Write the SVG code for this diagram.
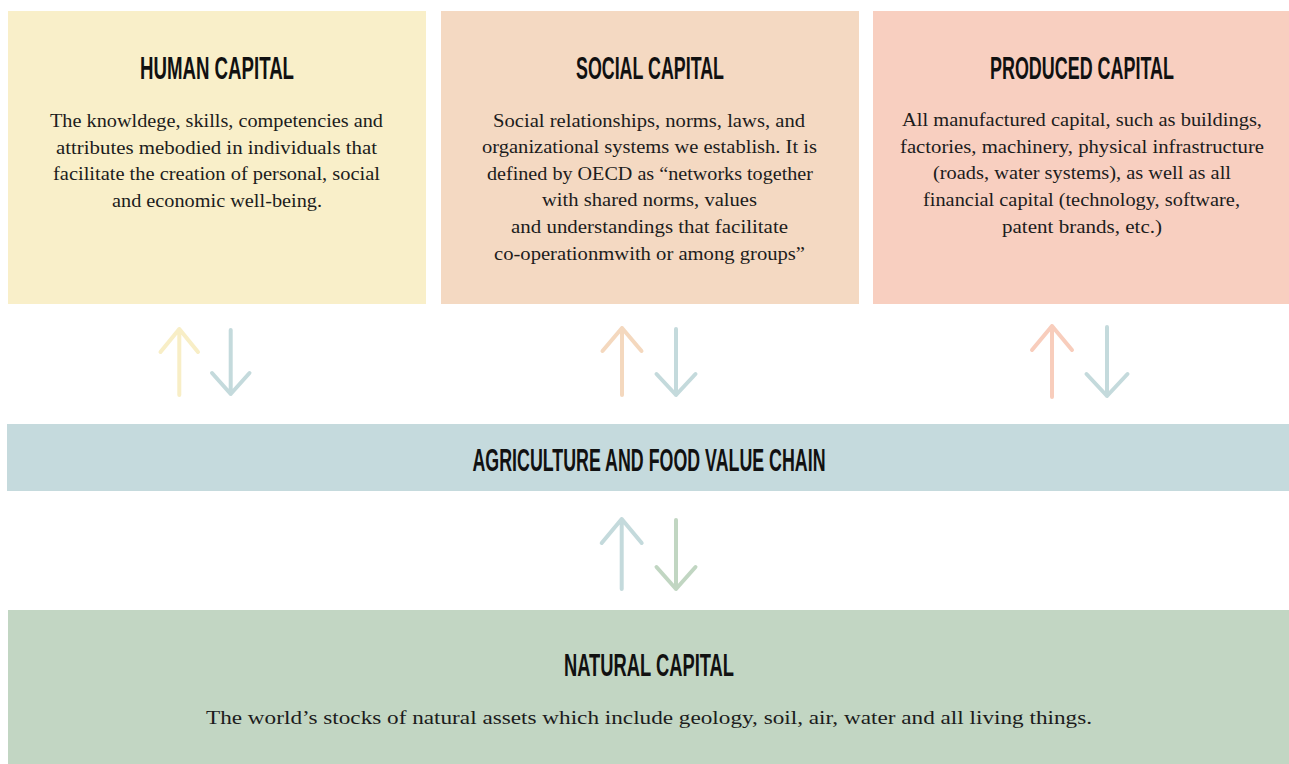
<svg xmlns="http://www.w3.org/2000/svg" width="1289" height="764" viewBox="0 0 1289 764">
  <style>
    .title { font-family: "Liberation Sans", Arial, sans-serif; font-weight: bold; font-size: 31px; fill: #111111; text-anchor: middle; }
    .body { font-family: "Liberation Serif", "Times New Roman", serif; font-size: 19px; fill: #1c1c1c; text-anchor: middle; }
    .arrow { fill: none; stroke-width: 4; stroke-linecap: round; stroke-linejoin: round; }
    .c-yellow { stroke: #F8EEC6; }
    .c-blue { stroke: #C4DADC; }
    .c-peach { stroke: #F4D8BE; }
    .c-salmon { stroke: #F8CDBC; }
    .c-green { stroke: #C1D6C2; }
  </style>
  <rect width="1289" height="764" fill="#ffffff"/>

  <!-- Human capital -->
  <g id="human-capital">
    <rect x="8" y="11" width="418" height="293" fill="#F9EFC9"/>
    <text class="title" x="217" y="79" textLength="154" lengthAdjust="spacingAndGlyphs">HUMAN CAPITAL</text>
    <text class="body" x="216.5" y="127" textLength="333" lengthAdjust="spacingAndGlyphs">The knowldege, skills, competencies and</text>
    <text class="body" x="216.5" y="153.7" textLength="321" lengthAdjust="spacingAndGlyphs">attributes mebodied in individuals that</text>
    <text class="body" x="216.5" y="180.4" textLength="327" lengthAdjust="spacingAndGlyphs">facilitate the creation of personal, social</text>
    <text class="body" x="217" y="207" textLength="210" lengthAdjust="spacingAndGlyphs">and economic well-being.</text>
  </g>

  <!-- Social capital -->
  <g id="social-capital">
    <rect x="441" y="11" width="418" height="293" fill="#F4D9C2"/>
    <text class="title" x="650" y="79" textLength="148" lengthAdjust="spacingAndGlyphs">SOCIAL CAPITAL</text>
    <text class="body" x="649" y="126.5" textLength="312" lengthAdjust="spacingAndGlyphs">Social relationships, norms, laws, and</text>
    <text class="body" x="649.5" y="153" textLength="335" lengthAdjust="spacingAndGlyphs">organizational systems we establish. It is</text>
    <text class="body" x="650" y="179.7" textLength="326" lengthAdjust="spacingAndGlyphs">defined by OECD as “networks together</text>
    <text class="body" x="649.5" y="206.3" textLength="215" lengthAdjust="spacingAndGlyphs">with shared norms, values</text>
    <text class="body" x="649.5" y="233" textLength="277" lengthAdjust="spacingAndGlyphs">and understandings that facilitate</text>
    <text class="body" x="649.5" y="259.6" textLength="311" lengthAdjust="spacingAndGlyphs">co-operationmwith or among groups”</text>
  </g>

  <!-- Produced capital -->
  <g id="produced-capital">
    <rect x="873" y="11" width="416" height="293" fill="#F8CFC0"/>
    <text class="title" x="1082" y="79" textLength="184" lengthAdjust="spacingAndGlyphs">PRODUCED CAPITAL</text>
    <text class="body" x="1082" y="126" textLength="360" lengthAdjust="spacingAndGlyphs">All manufactured capital, such as buildings,</text>
    <text class="body" x="1082" y="152.7" textLength="364" lengthAdjust="spacingAndGlyphs">factories, machinery, physical infrastructure</text>
    <text class="body" x="1082" y="179.3" textLength="298" lengthAdjust="spacingAndGlyphs">(roads, water systems), as well as all</text>
    <text class="body" x="1081.5" y="206" textLength="317" lengthAdjust="spacingAndGlyphs">financial capital (technology, software,</text>
    <text class="body" x="1082" y="232.7" textLength="160" lengthAdjust="spacingAndGlyphs">patent brands, etc.)</text>
  </g>

  <!-- Agriculture and food value chain -->
  <g id="value-chain">
    <rect x="7" y="424" width="1282" height="67" fill="#C5DADD"/>
    <text class="title" x="649" y="471" textLength="353" lengthAdjust="spacingAndGlyphs">AGRICULTURE AND FOOD VALUE CHAIN</text>
  </g>

  <!-- Natural capital -->
  <g id="natural-capital">
    <rect x="8" y="610" width="1281" height="154" fill="#C2D6C3"/>
    <text class="title" x="649" y="676" textLength="170" lengthAdjust="spacingAndGlyphs">NATURAL CAPITAL</text>
    <text class="body" x="649" y="724" textLength="886" lengthAdjust="spacingAndGlyphs">The world’s stocks of natural assets which include geology, soil, air, water and all living things.</text>
  </g>

  <!-- Two-way flows between the capitals and the value chain -->
  <g id="connectors">
    <path class="arrow c-yellow" d="M179.3 395 V329 M160.5 352 L179.3 329 L198 352"/>
    <path class="arrow c-blue" d="M230.7 330 V394 M212 373 L230.7 394 L249.5 373"/>

    <path class="arrow c-peach" d="M622 395 V328 M602.5 351 L622 328 L641.5 351"/>
    <path class="arrow c-blue" d="M676 329 V395 M656.5 374 L676 395 L695.5 374"/>

    <path class="arrow c-salmon" d="M1052 397 V326 M1032 350 L1052 326 L1072 350"/>
    <path class="arrow c-blue" d="M1107 327 V396 M1086.5 374 L1107 396 L1127.5 374"/>

    <path class="arrow c-blue" d="M621.7 589 V519 M601.7 543 L621.7 519 L641.7 543"/>
    <path class="arrow c-green" d="M676 520 V589 M656.5 567 L676 589 L695.5 567"/>
  </g>
</svg>
